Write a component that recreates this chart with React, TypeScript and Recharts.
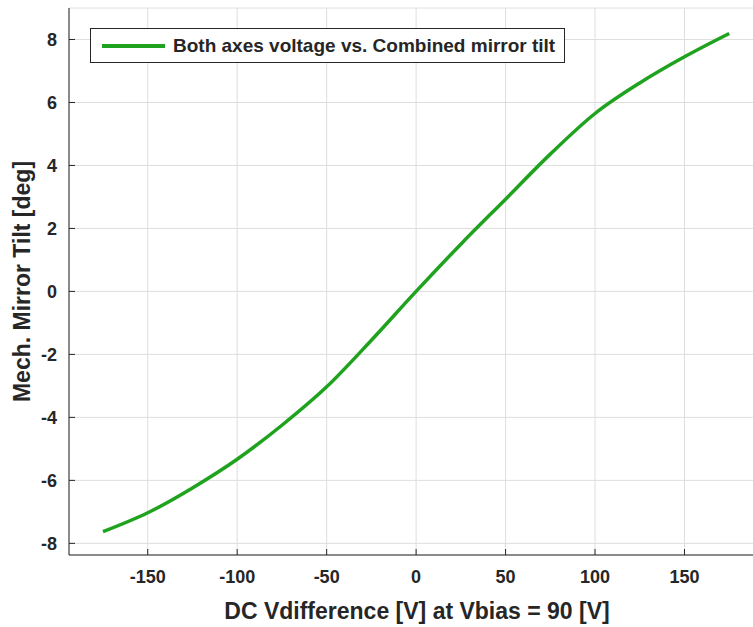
import { LineChart, Line, XAxis, YAxis, CartesianGrid, Legend, Label } from 'recharts';

// DC voltage difference [V]
const vdiff = [-175, -150, -125, -100, -75, -50, -25, 0, 25, 50, 75, 100, 125, 150, 175];
// combined mechanical mirror tilt [deg]
const tilt = [-7.63, -7.03, -6.24, -5.33, -4.25, -3.03, -1.55, 0, 1.5, 2.93, 4.36, 5.65, 6.62, 7.45, 8.19];

const xTicks = [-150, -100, -50, 0, 50, 100, 150];
const yTicks = [-8, -6, -4, -2, 0, 2, 4, 6, 8];

const seriesName = 'Both axes voltage vs. Combined mirror tilt';
const lineColor = '#1fa31f';
const inkColor = '#262626';
const font = '"Liberation Sans", Arial, sans-serif';

const data = vdiff.map((v, i) => ({ v, tilt: tilt[i] }));

const LegendBox = () => (
  <div
    style={{
      display: 'flex',
      alignItems: 'center',
      boxSizing: 'border-box',
      height: 35,
      border: `1px solid ${inkColor}`,
      background: '#fff',
      padding: '0 9px 0 11px',
      fontFamily: font,
      fontWeight: 'bold',
      fontSize: 19,
      color: inkColor,
      whiteSpace: 'nowrap',
    }}
  >
    <span style={{ display: 'inline-block', width: 63, height: 4, background: lineColor, marginRight: 8 }} />
    {seriesName}
  </div>
);

export default function App() {
  return (
    <div
      style={{
        position: 'absolute',
        left: 0,
        top: 0,
        width: 753,
        height: 627,
        overflow: 'hidden',
        background: '#fff',
      }}
    >
      <LineChart width={800} height={627} data={data} margin={{ top: 8, right: 35, left: 0, bottom: 0 }}>
        <CartesianGrid stroke="#dedede" strokeWidth={1} />
        <XAxis
          dataKey="v"
          type="number"
          domain={[-194, 195]}
          ticks={xTicks}
          height={72}
          stroke={inkColor}
          tickSize={-6}
          tickMargin={21}
          tick={{ fill: inkColor, fontFamily: font, fontWeight: 'bold', fontSize: 18 }}
          allowDataOverflow
        >
          <Label
            value="DC Vdifference [V] at Vbias = 90 [V]"
            position="center"
            dy={20}
            style={{ fill: inkColor, fontFamily: font, fontWeight: 'bold', fontSize: 23 }}
          />
        </XAxis>
        <XAxis
          xAxisId="top"
          dataKey="v"
          type="number"
          orientation="top"
          domain={[-194, 195]}
          ticks={xTicks}
          height={0}
          stroke={inkColor}
          tickSize={-6}
          tick={false}
          allowDataOverflow
        />
        <YAxis
          type="number"
          domain={[-8.37, 9]}
          ticks={yTicks}
          width={69}
          stroke={inkColor}
          tickSize={-6}
          tickMargin={18}
          tick={{ fill: inkColor, fontFamily: font, fontWeight: 'bold', fontSize: 18 }}
          allowDataOverflow
        >
          <Label
            value="Mech. Mirror Tilt [deg]"
            angle={-90}
            position="center"
            dx={-13}
            style={{ fill: inkColor, fontFamily: font, fontWeight: 'bold', fontSize: 23, textAnchor: 'middle' }}
          />
        </YAxis>
        <Legend
          layout="horizontal"
          verticalAlign="middle"
          align="center"
          content={() => <LegendBox />}
          wrapperStyle={{ top: 28, left: 90, width: 'auto', height: 'auto' }}
        />
        <Line
          type="monotone"
          dataKey="tilt"
          name={seriesName}
          stroke={lineColor}
          strokeWidth={3.5}
          dot={false}
          isAnimationActive={false}
        />
      </LineChart>
    </div>
  );
}
